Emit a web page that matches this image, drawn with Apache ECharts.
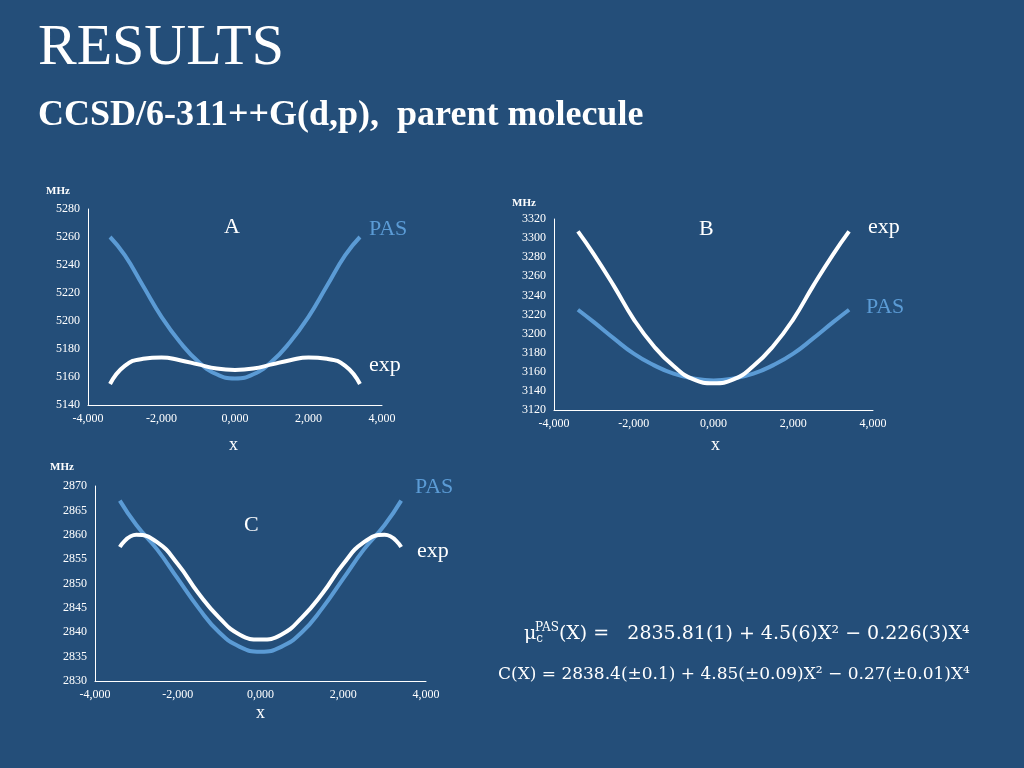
<!DOCTYPE html>
<html>
<head>
<meta charset="utf-8">
<script src="https://cdn.jsdelivr.net/npm/echarts@6/dist/echarts.min.js"></script>
<style>
html,body{margin:0;padding:0;background:#244e79;}
#main{width:1024px;height:768px;}
</style>
</head>
<body>
<div id="main"></div>
<script>
// x positions (shared by all panels)
var xs = [-3400,-3000,-2500,-2000,-1500,-1000,-500,0,500,1000,1500,2000,2500,3000,3400];

var pasA = [5260,5247,5225,5203,5185,5171,5162,5159,5162,5171,5185,5203,5225,5247,5260];
var expA = [5155,5168,5173,5174,5172,5169,5166,5165,5166,5169,5172,5174,5173,5168,5155];

var expB = [3307,3283,3250,3215,3187,3166,3152,3148,3152,3166,3187,3215,3250,3283,3307];
var pasB = [3225,3212,3195,3179,3167,3158,3153,3151,3153,3158,3167,3179,3195,3212,3225];

var pasC = [2867,2862,2857,2851,2845,2840,2837,2836,2837,2840,2845,2851,2857,2862,2867];
var expC = [2857.5,2860,2858.5,2854,2848,2843,2839.5,2838.5,2839.5,2843,2848,2854,2858.5,2860,2857.5];

function pairs(v){ return xs.map(function(x,i){ return [x, v[i]]; }); }

var serif = 'Liberation Serif';
var pasColor = '#5b9bd5';

function xAx(idx){
	return {
		gridIndex: idx, type: 'value', min: -4000, max: 4000, interval: 2000,
		axisLine: {onZero: false, lineStyle: {color: '#ffffff'}}, axisTick: {show: false},
		splitLine: {show: false},
		axisLabel: {color: '#fff', fontFamily: serif, fontSize: 12,
			formatter: function(v){ return (v/1000).toFixed(3).replace('.', ','); }}
	};
}
function yAx(idx, mn, mx, step){
	return {
		gridIndex: idx, type: 'value', min: mn, max: mx, interval: step,
		axisLine: {show: true, onZero: false, lineStyle: {color: '#ffffff'}}, axisTick: {show: false},
		splitLine: {show: false},
		axisLabel: {color: '#fff', fontFamily: serif, fontSize: 12,
			formatter: function(v){ return String(v); }}
	};
}
function line(idx, data, color){
	return {type: 'line', xAxisIndex: idx, yAxisIndex: idx, data: pairs(data),
		smooth: true, showSymbol: false, lineStyle: {color: color, width: 4}};
}
function txt(x, y, s, size, color, extra){
	var st = {text: s, fill: color, font: (extra || '') + ' ' + size + 'px "' + serif + '"'};
	return {type: 'text', left: x, top: y, style: st};
}

var chart = echarts.init(document.getElementById('main'));
chart.setOption({
	backgroundColor: '#244e79',
	animation: false,
	grid: [
		{left: 88, top: 209, width: 294, height: 196},
		{left: 554, top: 219, width: 319, height: 191},
		{left: 95, top: 486, width: 331, height: 195}
	],
	xAxis: [xAx(0), xAx(1), xAx(2)],
	yAxis: [yAx(0, 5140, 5280, 20), yAx(1, 3120, 3320, 20), yAx(2, 2830, 2870, 5)],
	series: [
		line(0, pasA, pasColor), line(0, expA, '#ffffff'),
		line(1, pasB, pasColor), line(1, expB, '#ffffff'),
		line(2, pasC, pasColor), line(2, expC, '#ffffff')
	],
	graphic: [
		{type: 'text', left: 38, top: 20, style: {text: 'RESULTS', fill: '#fff', font: '58px "Liberation Serif"', shadowColor: 'rgba(0,0,0,0.6)', shadowOffsetX: 2, shadowOffsetY: 2, shadowBlur: 3}},
		{type: 'text', left: 38, top: 98, style: {text: 'CCSD/6-311++G(d,p),  parent molecule', fill: '#fff', font: 'bold 36px "Liberation Serif"', shadowColor: 'rgba(0,0,0,0.6)', shadowOffsetX: 2, shadowOffsetY: 2, shadowBlur: 3}},
		txt(46, 186, 'MHz', 11, '#fff', 'bold'),
		txt(512, 198, 'MHz', 11, '#fff', 'bold'),
		txt(50, 462, 'MHz', 11, '#fff', 'bold'),
		txt(229, 436, 'x', 18, '#fff'),
		txt(711, 436, 'x', 18, '#fff'),
		txt(256, 704, 'x', 18, '#fff'),
		txt(224, 216, 'A', 22, '#fff'),
		txt(369, 218, 'PAS', 22, pasColor),
		txt(369, 354, 'exp', 22, '#fff'),
		txt(699, 218, 'B', 22, '#fff'),
		txt(868, 216, 'exp', 22, '#fff'),
		txt(866, 296, 'PAS', 22, pasColor),
		txt(244, 514, 'C', 22, '#fff'),
		txt(415, 476, 'PAS', 22, pasColor),
		txt(417, 540, 'exp', 22, '#fff'),
		{type: 'text', left: 524, top: 622, style: {
			text: '{a|μ}{s|c}{p|PAS}{a|(X) =   2835.81(1) + 4.5(6)X² − 0.226(3)X⁴}',
			rich: {
				a: {fill: '#fff', fontSize: 19, fontFamily: 'DejaVu Serif'},
				s: {fill: '#fff', fontSize: 12, fontFamily: 'DejaVu Serif', padding: [10, 0, 0, 0]},
				p: {fill: '#fff', fontSize: 12, fontFamily: 'DejaVu Serif', padding: [0, 0, 12, -8]}
			}}},
		{type: 'text', left: 498, top: 666, style: {text: 'C(X) = 2838.4(±0.1) + 4.85(±0.09)X² − 0.27(±0.01)X⁴', fill: '#fff', font: '17px "DejaVu Serif"'}}
	]
});
</script>
</body>
</html>
